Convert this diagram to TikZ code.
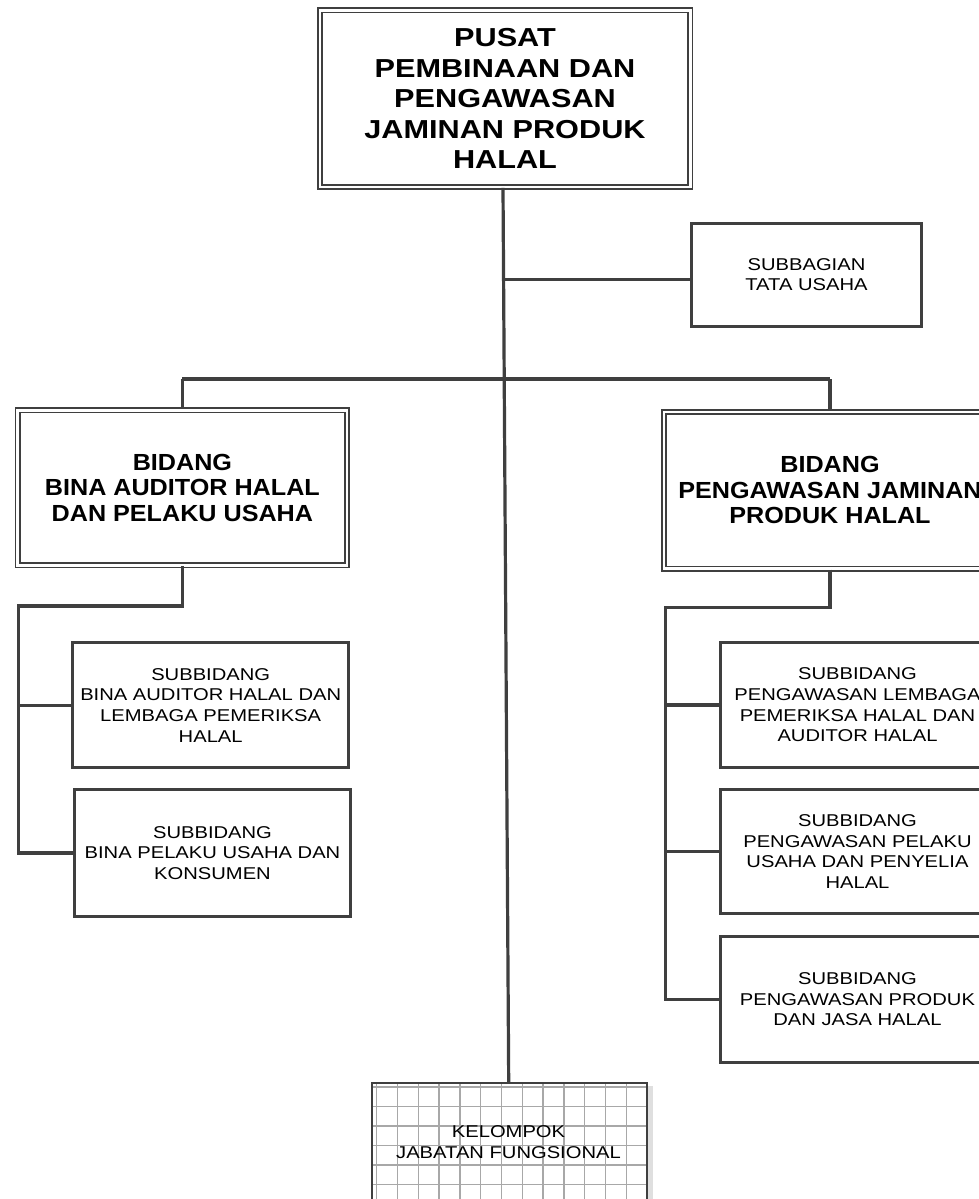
\documentclass[tikz,border=0pt]{standalone}
\usepackage{fontspec}
\setmainfont[FakeStretch=1.18]{Liberation Sans}
\newfontfamily\regfont[FakeStretch=1.18]{Liberation Sans}
\newfontfamily\bidfont[FakeStretch=1.08]{Liberation Sans}
\usetikzlibrary{calc}
\definecolor{ln}{HTML}{3F3F3F}
\definecolor{gridc}{HTML}{A8A8A8}
\tikzset{
  conn/.style={draw=ln, line width=3.2pt},
  dbox/.style={rectangle, draw=ln, line width=1.8pt, double=white, double distance=2.4pt, inner sep=0pt, align=center},
  sbox/.style={rectangle, draw=ln, line width=3pt, fill=white, inner sep=0pt, align=center,
     font=\regfont\fontsize{17.1}{20.6}\selectfont},
  topfont/.style={font=\regfont\bfseries\fontsize{26}{30.5}\selectfont},
  bidfontstyle/.style={font=\bidfont\bfseries\fontsize{23.3}{25.5}\selectfont},
  gridline/.style={draw=gridc, line width=1.4pt},
}
\begin{document}
\begin{tikzpicture}[x=1pt,y=-1pt]
\useasboundingbox (0,0) rectangle (979,1199);
\clip (0,0) rectangle (979,1199);
\fill[white] (0,0) rectangle (979,1199);

% top box
\node[dbox, topfont, minimum width=370.6pt, minimum height=176.7pt] (top) at (505,98.7)
  {PUSAT\\PEMBINAAN DAN\\PENGAWASAN\\JAMINAN PRODUK\\HALAL};

% subbagian
\node[sbox, minimum width=229.4pt, minimum height=103pt] (sub) at (806.5,274.7)
  {SUBBAGIAN\\TATA USAHA};

% bidang boxes
\node[dbox, bidfontstyle, minimum width=329.7pt, minimum height=155pt] (bidL) at (182.4,487.8)
  {BIDANG\\BINA AUDITOR HALAL\\DAN PELAKU USAHA};
\node[dbox, bidfontstyle, minimum width=332pt, minimum height=156.7pt] (bidR) at (830,490.3)
  {BIDANG\\PENGAWASAN JAMINAN\\PRODUK HALAL};

% left subbidang
\node[sbox, minimum width=275.7pt, minimum height=124.7pt] (subL1) at (210.7,705.2)
  {SUBBIDANG\\BINA AUDITOR HALAL DAN\\LEMBAGA PEMERIKSA\\HALAL};
\node[sbox, minimum width=275.4pt, minimum height=127.6pt] (subL2) at (212.5,853)
  {SUBBIDANG\\BINA PELAKU USAHA DAN\\KONSUMEN};

% right subbidang
\node[sbox, minimum width=274pt, minimum height=125.6pt] (subR1) at (857.5,705)
  {SUBBIDANG\\PENGAWASAN LEMBAGA\\PEMERIKSA HALAL DAN\\AUDITOR HALAL};
\node[sbox, minimum width=274pt, minimum height=124.6pt] (subR2) at (857.5,851.5)
  {SUBBIDANG\\PENGAWASAN PELAKU\\USAHA DAN PENYELIA\\HALAL};
\node[sbox, minimum width=274pt, minimum height=126pt] (subR3) at (857.5,999.5)
  {SUBBIDANG\\PENGAWASAN PRODUK\\DAN JASA HALAL};

% kelompok jabatan fungsional (grid box)
\fill[gray!25] (648,1086) rectangle (652.5,1210);
\fill[white] (372,1082) rectangle (647.3,1210);
\begin{scope}
  \clip (372,1082) rectangle (647.3,1210);
  \foreach \i in {0,...,12} \draw[gridline] (376.7+\i*20.8,1082) -- ++(0,130);
  \foreach \j in {0,...,6} \draw[gridline] (372,1087+\j*19.5) -- ++(280,0);
\end{scope}
\node[rectangle, draw=ln, line width=2pt, inner sep=0pt, align=center,
      minimum width=275.3pt, minimum height=240pt, anchor=north,
      font=\regfont\fontsize{17.1}{20.6}\selectfont] (kel) at (509.7,1082) {};
\node[align=center, inner sep=0pt, font=\regfont\fontsize{17.1}{20.6}\selectfont] (keltext) at (508.5,1142)
  {KELOMPOK\\JABATAN FUNGSIONAL};

% connectors
\coordinate (jSub) at (505,279.3);
\coordinate (bus) at (504,379);
\coordinate (lcol) at (18.5,606);
\coordinate (rcol) at (665.8,607.3);

\draw[conn] ($(top.south)+(-2,0)$) -- ($(kel.north)+(-1,0)$);
\draw[conn] (jSub) -- (jSub -| sub.west);
\draw[conn] (bidL.north |- bus) -- (bidR.north |- bus);
\draw[conn] (bidL.north |- bus) -- (bidL.north);
\draw[conn] (bidR.north |- bus) -- (bidR.north);

\draw[conn, line join=miter] (bidL.south) -- (bidL.south |- lcol) -- (lcol) -- (lcol |- subL2.west) -- (subL2.west);
\draw[conn] (lcol |- subL1.west) -- (subL1.west);

\draw[conn, line join=miter] (bidR.south) -- (bidR.south |- rcol) -- (rcol) -- (rcol |- subR3.west) -- (subR3.west);
\draw[conn] (rcol |- subR1.west) -- (subR1.west);
\draw[conn] (rcol |- subR2.west) -- (subR2.west);
\end{tikzpicture}
\end{document}
